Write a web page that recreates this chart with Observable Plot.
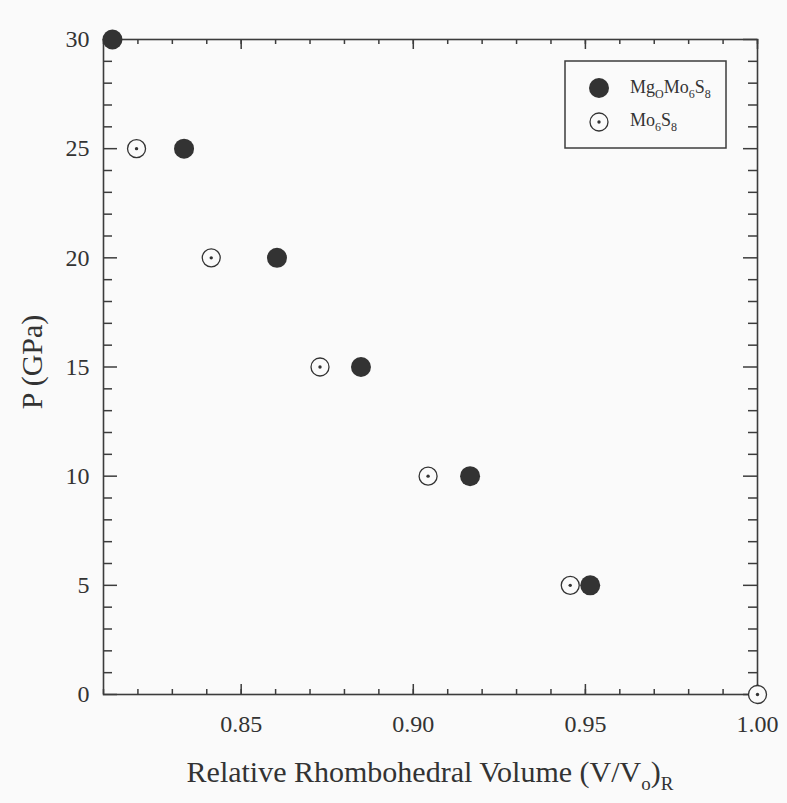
<!DOCTYPE html>
<html><head><meta charset="utf-8">
<script src="https://cdn.jsdelivr.net/npm/d3@7"></script>
<script src="https://cdn.jsdelivr.net/npm/@observablehq/plot@0.6"></script>
<style>
html,body{margin:0;padding:0;background:#fafafa;}
#chart svg{display:block;}
#chart svg text{font-family:"Liberation Serif","Times New Roman",serif !important;}
</style></head><body><div id="chart"></div>
<script>
// Data
const seriesNames = ["MgOMo6S8", "Mo6S8"];
const pressureMgO = [30, 25, 20, 15, 10, 5];
const volumeMgO = [0.8126, 0.8334, 0.8604, 0.8848, 0.9165, 0.9514];
const pressureMo = [25, 20, 15, 10, 5, 0];
const volumeMo = [0.8196, 0.8413, 0.8729, 0.9043, 0.9456, 1.00];

const xMajor = [0.85, 0.90, 0.95, 1.00];
const xMinor = [0.81, 0.82, 0.83, 0.84, 0.85, 0.86, 0.87, 0.88, 0.89, 0.90, 0.91, 0.92, 0.93, 0.94, 0.95, 0.96, 0.97, 0.98, 0.99, 1.00];
const yMajor = [0, 5, 10, 15, 20, 25, 30];
const yMinor = [1, 2, 3, 4, 6, 7, 8, 9, 11, 12, 13, 14, 16, 17, 18, 19, 21, 22, 23, 24, 26, 27, 28, 29];

const W = 787, H = 803, mL = 103, mR = 30, mT = 39, mB = 109;
const pw = W - mL - mR, ph = H - mT - mB;
const ink = "#333333", axisInk = "#3c3c3c", bg = "#fafafa";
const font = "Liberation Serif";

const mgo = volumeMgO.map((v, i) => ({v, p: pressureMgO[i]}));
const mo = volumeMo.map((v, i) => ({v, p: pressureMo[i]}));

const tickStyle = {stroke: axisInk, strokeWidth: 1.5};
const plot = Plot.plot({
  width: W, height: H,
  marginLeft: mL, marginRight: mR, marginTop: mT, marginBottom: mB,
  style: {background: bg, color: ink, fontFamily: font, fontSize: "24px"},
  x: {domain: [0.81, 1.00]},
  y: {domain: [0, 30]},
  marks: [
    Plot.ruleX(xMinor, {x: d => d, insetTop: ph - 5, ...tickStyle}),
    Plot.ruleX(xMinor, {x: d => d, insetBottom: ph - 5, ...tickStyle}),
    Plot.ruleX(xMajor, {x: d => d, insetTop: ph - 10, ...tickStyle}),
    Plot.ruleX(xMajor, {x: d => d, insetBottom: ph - 10, ...tickStyle}),
    Plot.ruleY(yMinor, {y: d => d, insetRight: pw - 9, ...tickStyle}),
    Plot.ruleY(yMinor, {y: d => d, insetLeft: pw - 9, ...tickStyle}),
    Plot.ruleY(yMajor, {y: d => d, insetRight: pw - 14, ...tickStyle}),
    Plot.ruleY(yMajor, {y: d => d, insetLeft: pw - 14, ...tickStyle}),
    Plot.frame({stroke: axisInk, strokeWidth: 1.6}),
    Plot.axisX({ticks: xMajor, tickSize: 0, tickPadding: 20, tickFormat: d3.format(".2f"), fontSize: 24, fontFamily: font, fill: ink, label: null}),
    Plot.axisY({ticks: yMajor, tickSize: 0, tickPadding: 14, fontSize: 24, fontFamily: font, fill: ink, label: null}),
    Plot.dot(mgo, {x: "v", y: "p", r: 10, fill: ink, stroke: "none"}),
    Plot.dot(mo, {x: "v", y: "p", r: 9, fill: bg, stroke: ink, strokeWidth: 1.3}),
    Plot.dot(mo, {x: "v", y: "p", r: 1.7, fill: ink, stroke: "none"})
  ]
});
document.getElementById("chart").appendChild(plot);

const svg = d3.select(plot);

// Axis titles with subscripts
const xt = svg.append("text").attr("x", mL + pw / 2).attr("y", 782)
  .attr("text-anchor", "middle").attr("font-family", font).attr("font-size", 30).attr("fill", ink);
xt.append("tspan").text("Relative Rhombohedral Volume (V/V");
xt.append("tspan").attr("font-size", 19).attr("dy", 8).text("o");
xt.append("tspan").attr("dy", -8).text(")");
xt.append("tspan").attr("font-size", 19).attr("dy", 8).text("R");

svg.append("text").attr("transform", "translate(42,362) rotate(-90)")
  .attr("text-anchor", "middle").attr("font-family", font).attr("font-size", 30).attr("fill", ink)
  .text("P (GPa)");

// Legend
const lg = svg.append("g");
lg.append("rect").attr("x", 565).attr("y", 61).attr("width", 161).attr("height", 87)
  .attr("fill", "none").attr("stroke", axisInk).attr("stroke-width", 1.5);
lg.append("circle").attr("cx", 599).attr("cy", 88).attr("r", 10).attr("fill", ink);
lg.append("circle").attr("cx", 599).attr("cy", 122).attr("r", 9).attr("fill", bg).attr("stroke", ink).attr("stroke-width", 1.3);
lg.append("circle").attr("cx", 599).attr("cy", 122).attr("r", 1.7).attr("fill", ink);
function subLabel(y, parts) {
  const t = lg.append("text").attr("x", 630).attr("y", y).attr("text-anchor", "start")
    .attr("font-family", font).attr("font-size", 18).attr("fill", ink);
  let shifted = false;
  parts.forEach(([s, sub]) => {
    const ts = t.append("tspan").text(s);
    if (sub && !shifted) { ts.attr("font-size", 12).attr("dy", 5); shifted = true; }
    else if (!sub && shifted) { ts.attr("dy", -5); shifted = false; }
    else if (sub) ts.attr("font-size", 12);
  });
}
subLabel(93, [["Mg", false], ["O", true], ["Mo", false], ["6", true], ["S", false], ["8", true]]);
subLabel(126, [["Mo", false], ["6", true], ["S", false], ["8", true]]);
svg.selectAll("text").style("font-family", "'Liberation Serif', 'Times New Roman', serif");
</script>
</body></html>
